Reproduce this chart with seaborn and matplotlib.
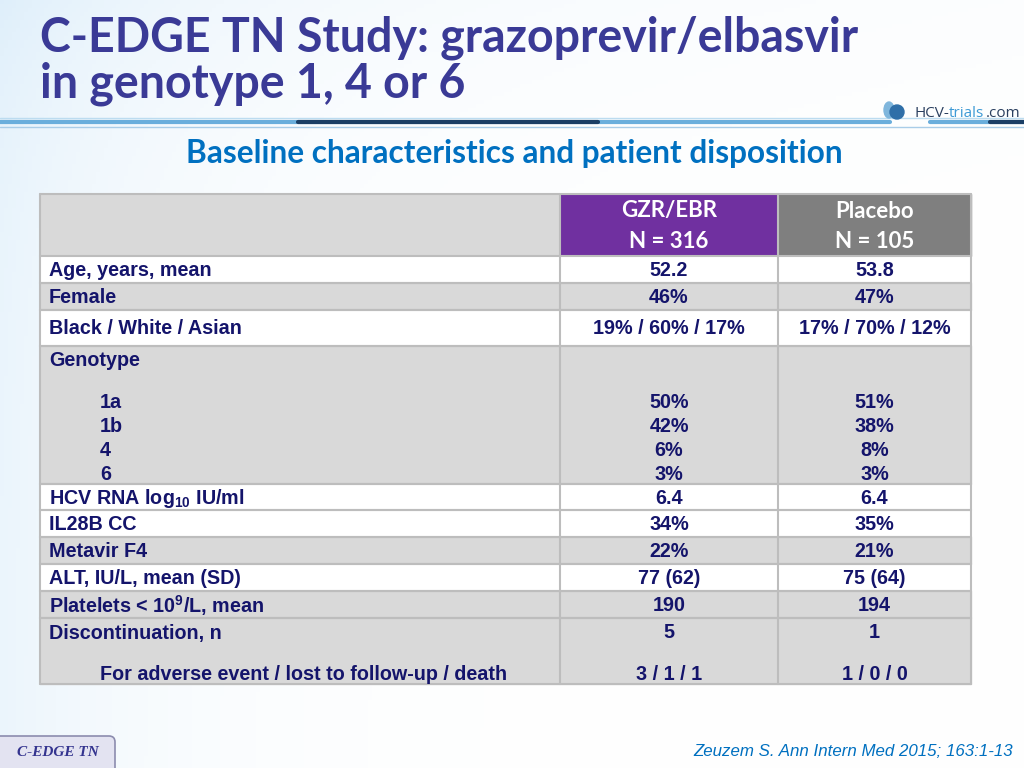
import numpy as np
import pandas as pd
import matplotlib.pyplot as plt
import seaborn as sns
from matplotlib.patches import Rectangle, FancyBboxPatch, Ellipse

# --- data -------------------------------------------------------------
title_lines = ["C-EDGE TN Study: grazoprevir/elbasvir", "in genotype 1, 4 or 6"]
subtitle = "Baseline characteristics and patient disposition"
arms = ["GZR/EBR", "Placebo"]
arm_n = [316, 105]

row_labels = ["Age, years, mean", "Female", "Black / White / Asian", "Genotype",
              "HCV RNA log$_{10}$ IU/ml", "IL28B CC", "Metavir F4",
              "ALT, IU/L, mean (SD)", "Platelets < 10$^{9}$/L, mean",
              "Discontinuation, n"]
gzr_values = ["52.2", "46%", "19% / 60% / 17%", "", "6.4", "34%", "22%",
              "77 (62)", "190", "5"]
pbo_values = ["53.8", "47%", "17% / 70% / 12%", "", "6.4", "35%", "21%",
              "75 (64)", "194", "1"]

genotypes = ["1a", "1b", "4", "6"]
gzr_genotype = ["50%", "42%", "6%", "3%"]
pbo_genotype = ["51%", "38%", "8%", "3%"]

disc_reason = "For adverse event / lost to follow-up / death"
gzr_disc_reason = "3 / 1 / 1"
pbo_disc_reason = "1 / 0 / 0"

citation = "Zeuzem S. Ann Intern Med 2015; 163:1-13"
tag = "C-EDGE TN"

table = pd.DataFrame({"label": row_labels, "gzr": gzr_values, "pbo": pbo_values})

# --- style ------------------------------------------------------------
sns.set_theme(style="white")
plt.rcParams["font.family"] = ["Liberation Sans", "DejaVu Sans"]
plt.rcParams["mathtext.fontset"] = "custom"
plt.rcParams["mathtext.bf"] = "Liberation Sans:bold"
plt.rcParams["mathtext.rm"] = "Liberation Sans:bold"
plt.rcParams["mathtext.default"] = "bf"

navy = "#14146b"
title_col = "#3a3a96"
blue = "#0070c0"
grey_row = "#d9d9d9"
line_col = "#bdbdbd"

fig = plt.figure(figsize=(10.24, 7.68), dpi=100)
ax = fig.add_axes([0, 0, 1, 1])
ax.set_xlim(0, 1024)
ax.set_ylim(768, 0)
ax.axis("off")

# pale blue background wash
xx, yy = np.meshgrid(np.linspace(0, 1024, 256), np.linspace(0, 768, 192))
w = np.clip(0.55 * np.exp(-xx / 160) + 0.35 * np.exp(-yy / 140) * np.exp(-xx / 700), 0, 1)
tint = np.array([0.86, 0.93, 0.98])
bg = 1 - w[..., None] * (1 - tint)
ax.imshow(bg, extent=(0, 1024, 768, 0), aspect="auto", zorder=0)

# titles
ax.text(40, 52, title_lines[0], family=["Lato", "DejaVu Sans"], fontweight="bold",
        fontsize=33.5, color=title_col, va="baseline", ha="left")
ax.text(40, 98, title_lines[1], family=["Lato", "DejaVu Sans"], fontweight="bold",
        fontsize=33.5, color=title_col, va="baseline", ha="left")

# header rule lines
ax.plot([0, 1024], [118, 118], color="#bcdcf0", lw=1, zorder=2)
ax.plot([0, 890], [122, 122], color="#6aaedc", lw=3, zorder=2)
ax.plot([930, 1024], [122, 122], color="#6aaedc", lw=3, zorder=2)
ax.plot([298, 598], [122, 122], color="#1b3f66", lw=3, zorder=3)
ax.plot([990, 1024], [122, 122], color="#1b3f66", lw=3, zorder=3)
ax.plot([0, 1024], [127, 127], color="#a9cde8", lw=1, zorder=2)

# logo
ax.add_patch(Ellipse((889, 110), 10, 16, color="#7fb6dc", zorder=3))
ax.add_patch(Ellipse((897, 112), 14, 14, color="#2f6fa8", zorder=4))
ax.text(915, 117, "HCV-", fontsize=11, color="#2a3f5f", va="baseline", ha="left",
        family=["Open Sans", "DejaVu Sans"])
ax.text(949, 117, "trials", fontsize=11, color="#3d9ad6", va="baseline", ha="left",
        family=["Open Sans", "DejaVu Sans"])
ax.text(986, 117, ".com", fontsize=11, color="#2a3f5f", va="baseline", ha="left",
        family=["Open Sans", "DejaVu Sans"])

ax.text(514, 153, subtitle, family=["Lato", "DejaVu Sans"], fontweight="bold",
        fontsize=22.8, color=blue, ha="center", va="center")

# --- table ------------------------------------------------------------
x_edges = [40, 560, 778, 971]
header_top, header_bot = 194, 256
row_edges = [256, 283, 310, 346, 484, 510, 537, 564, 591, 618, 684]
grey_rows = {1, 3, 6, 8, 9}
col_mid = [(x_edges[1] + x_edges[2]) / 2, (x_edges[2] + x_edges[3]) / 2]

ax.add_patch(Rectangle((x_edges[0], header_top), x_edges[1] - x_edges[0],
                       header_bot - header_top, color=grey_row, zorder=2))
ax.add_patch(Rectangle((x_edges[1], header_top), x_edges[2] - x_edges[1],
                       header_bot - header_top, color="#7030a0", zorder=2))
ax.add_patch(Rectangle((x_edges[2], header_top), x_edges[3] - x_edges[2],
                       header_bot - header_top, color="#7f7f7f", zorder=2))
for i, (arm, n) in enumerate(zip(arms, arm_n)):
    ax.text(col_mid[i], 211, arm, color="white", fontsize=16, fontweight="bold",
            ha="center", va="center", family=["Lato", "DejaVu Sans"])
    ax.text(col_mid[i], 241, f"N = {n}", color="white", fontsize=16, fontweight="bold",
            ha="center", va="center", family=["Lato", "DejaVu Sans"])

fs = 14.2
for i, row in table.iterrows():
    top, bot = row_edges[i], row_edges[i + 1]
    ax.add_patch(Rectangle((x_edges[0], top), x_edges[3] - x_edges[0], bot - top,
                           color=grey_row if i in grey_rows else "white", zorder=2))
    ax.plot([x_edges[0], x_edges[3]], [bot, bot], color=line_col, lw=1.5, zorder=3)
    ax.plot([x_edges[0], x_edges[3]], [top, top], color=line_col, lw=1.5, zorder=3)
    y = (top + bot) / 2 + 1 if bot - top < 40 else top + 15
    ax.text(49, y, row["label"], color=navy, fontsize=fs, fontweight="bold",
            ha="left", va="center", zorder=4)
    ax.text(col_mid[0], y, row["gzr"], color=navy, fontsize=fs, fontweight="bold",
            ha="center", va="center", zorder=4)
    ax.text(col_mid[1], y, row["pbo"], color=navy, fontsize=fs, fontweight="bold",
            ha="center", va="center", zorder=4)

# genotype sub-rows
geno_top = row_edges[3]
for k, (g, a, b) in enumerate(zip(genotypes, gzr_genotype, pbo_genotype)):
    y = geno_top + 57 + 24 * k
    ax.text(100, y, g, color=navy, fontsize=fs, fontweight="bold", ha="left", va="center", zorder=4)
    ax.text(col_mid[0], y, a, color=navy, fontsize=fs, fontweight="bold", ha="center", va="center", zorder=4)
    ax.text(col_mid[1], y, b, color=navy, fontsize=fs, fontweight="bold", ha="center", va="center", zorder=4)

# discontinuation reasons
y = row_edges[9] + 57
ax.text(100, y, disc_reason, color=navy, fontsize=fs, fontweight="bold", ha="left", va="center", zorder=4)
ax.text(col_mid[0], y, gzr_disc_reason, color=navy, fontsize=fs, fontweight="bold", ha="center", va="center", zorder=4)
ax.text(col_mid[1], y, pbo_disc_reason, color=navy, fontsize=fs, fontweight="bold", ha="center", va="center", zorder=4)

# grid lines
for xe in x_edges:
    ax.plot([xe, xe], [header_top, row_edges[-1]], color=line_col, lw=1.5, zorder=3)
ax.plot([x_edges[0], x_edges[3]], [header_top, header_top], color=line_col, lw=1.5, zorder=3)

# --- footer -----------------------------------------------------------
ax.add_patch(FancyBboxPatch((-6, 736), 121, 40, boxstyle="round,pad=0,rounding_size=6",
                            facecolor="#e3e3f1", edgecolor="#8c8cae", lw=1.2, zorder=3))
ax.text(58, 753, tag, family=["Liberation Serif", "DejaVu Serif"], fontweight="bold",
        style="italic", fontsize=11, color="#34348f", ha="center", va="center", zorder=4)
ax.text(1013, 751, citation, style="italic", fontsize=12.2, color=blue,
        ha="right", va="center")

fig.savefig("out.png", dpi=100)
